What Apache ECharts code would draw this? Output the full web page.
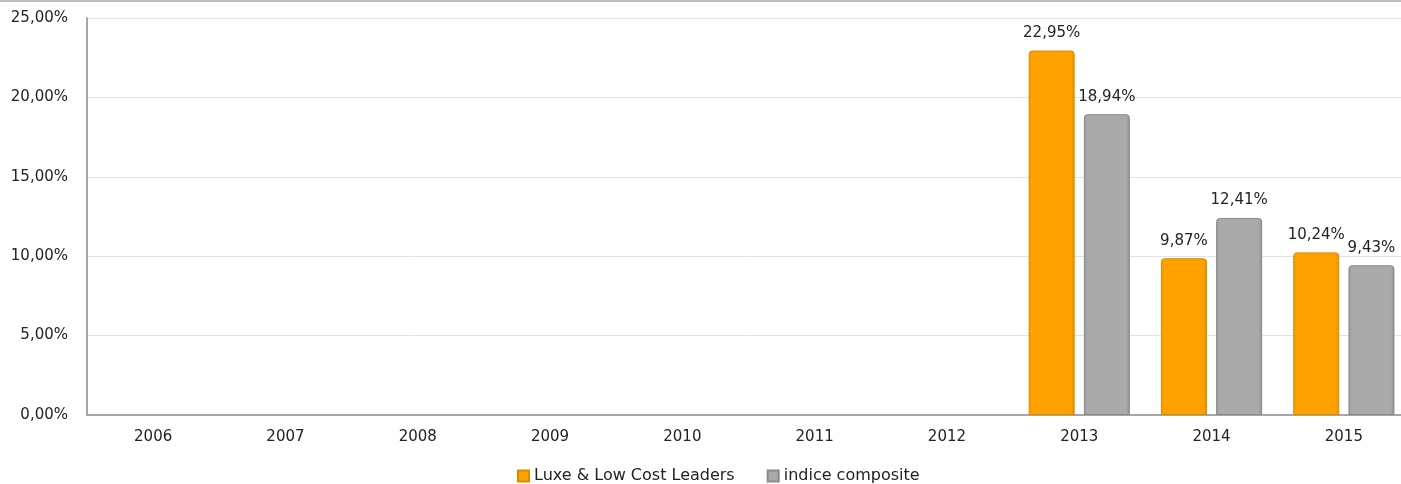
<!DOCTYPE html>
<html>
<head>
<meta charset="utf-8">
<script src="https://cdn.jsdelivr.net/npm/echarts@6/dist/echarts.min.js"></script>
<style>
  html, body { margin: 0; padding: 0; background: #fff; }
  #chart { width: 1401px; height: 484px; }
</style>
</head>
<body>
<div id="chart"></div>
<script>
// données
const years = ['2006', '2007', '2008', '2009', '2010', '2011', '2012', '2013', '2014', '2015'];
const luxeLowCost = [null, null, null, null, null, null, null, 22.95, 9.87, 10.24];
const indiceComposite = [null, null, null, null, null, null, null, 18.94, 12.41, 9.43];
const seriesNames = ['Luxe & Low Cost Leaders', 'indice composite'];

const fmt = (v, d) => v.toFixed(d).replace('.', ',') + '%';
const font = '"DejaVu Sans", sans-serif';

const orange = new echarts.graphic.LinearGradient(0, 0, 1, 0, [
  { offset: 0, color: '#f29a00' },
  { offset: 0.08, color: '#ffa200' },
  { offset: 0.92, color: '#ffa200' },
  { offset: 1, color: '#e08e00' }
]);
const grey = new echarts.graphic.LinearGradient(0, 0, 1, 0, [
  { offset: 0, color: '#999999' },
  { offset: 0.08, color: '#aaaaaa' },
  { offset: 0.92, color: '#aaaaaa' },
  { offset: 1, color: '#8e8e8e' }
]);

const myChart = echarts.init(document.getElementById('chart'));
myChart.setOption({
  animation: false,
  graphic: [{
    type: 'line',
    shape: { x1: 0, y1: 1, x2: 1401, y2: 1 },
    style: { stroke: '#bdbdbd', lineWidth: 2 }
  }],
  // la zone de tracé déborde à droite de la fenêtre
  grid: { left: 87, right: -9, top: 18, bottom: 69, outerBoundsMode: 'none', containLabel: false },
  legend: {
    top: 463,
    left: 512,
    itemWidth: 11,
    itemHeight: 11,
    itemGap: 32,
    icon: 'rect',
    textStyle: { fontFamily: font, fontSize: 16, color: '#222' },
    data: seriesNames
  },
  xAxis: {
    type: 'category',
    data: years,
    axisLine: { lineStyle: { color: '#a6a6a6', width: 2 } },
    axisTick: { show: false },
    axisLabel: { fontFamily: font, fontSize: 15, color: '#222', margin: 15 }
  },
  yAxis: {
    type: 'value',
    min: 0,
    max: 25,
    interval: 5,
    axisLine: { show: true, lineStyle: { color: '#a6a6a6', width: 2 } },
    axisTick: { show: false },
    splitLine: { lineStyle: { color: '#e3e3e3' } },
    axisLabel: {
      fontFamily: font, fontSize: 15, color: '#222', margin: 19,
      formatter: v => fmt(v, 2)
    }
  },
  series: [
    {
      name: seriesNames[0],
      type: 'bar',
      data: luxeLowCost,
      barWidth: 46,
      barGap: '20%',
      itemStyle: { color: orange, borderColor: '#d98c00', borderWidth: 1, borderRadius: [3, 3, 0, 0] },
      label: {
        show: true, position: 'top', distance: 10,
        fontFamily: font, fontSize: 15, color: '#222',
        formatter: p => fmt(p.value, 2)
      }
    },
    {
      name: seriesNames[1],
      type: 'bar',
      data: indiceComposite,
      barWidth: 46,
      itemStyle: { color: grey, borderColor: '#8a8a8a', borderWidth: 1, borderRadius: [3, 3, 0, 0] },
      label: {
        show: true, position: 'top', distance: 10,
        fontFamily: font, fontSize: 15, color: '#222',
        formatter: p => fmt(p.value, 2)
      }
    }
  ]
});
</script>
</body>
</html>
